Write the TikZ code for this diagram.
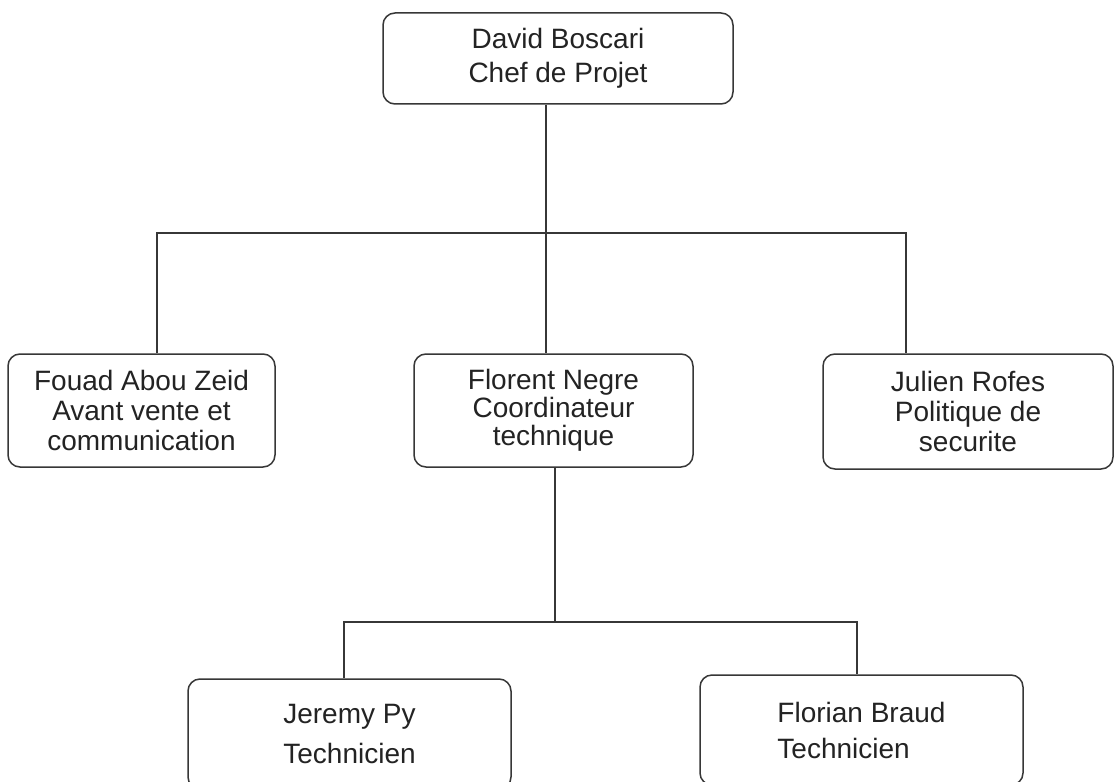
\documentclass[tikz,border=0pt]{standalone}
\usepackage{fontspec}
\setmainfont{Liberation Sans}
\definecolor{linegray}{RGB}{55,55,55}
\definecolor{textgray}{RGB}{35,35,35}
\begin{document}
\begin{tikzpicture}[x=1pt,y=-1pt,
  box/.style={draw=linegray, line width=1.5pt, rounded corners=12pt, fill=white,
    inner sep=0pt, align=center, text=textgray, font=\fontsize{28}{30}\selectfont},
  link/.style={draw=linegray, line width=1.5pt}]
\useasboundingbox (0,0) rectangle (1115,781);
\clip (0,0) rectangle (1115,781);
\fill[white] (0,0) rectangle (1115,781);

% nodes
\node[box, minimum width=350pt, minimum height=91pt, font=\fontsize{28}{34}\selectfont]
  (top) at (558,58.5) {David Boscari\\Chef de Projet};
\node[box, minimum width=267pt, minimum height=113pt]
  (fouad) at (141.5,410.5) {Fouad Abou Zeid\\Avant vente et\\communication};
\node[box, minimum width=279pt, minimum height=113pt, font=\fontsize{28}{28}\selectfont]
  (florent) at (553.5,410.5) {Florent Negre\\Coordinateur\\technique};
\node[box, minimum width=290pt, minimum height=115pt]
  (julien) at (968,411.5) {Julien Rofes\\Politique de\\securite};
\node[box, minimum width=323pt, minimum height=110pt, align=left, font=\fontsize{28}{40}\selectfont]
  (jeremy) at (349.5,734) {Jeremy Py\\Technicien};
\node[box, minimum width=323pt, minimum height=110pt, align=left, font=\fontsize{28}{36}\selectfont]
  (florian) at (861.5,730) {Florian Braud\\Technicien};

% junction coordinates
\coordinate (j1) at (546,233);
\coordinate (b1) at (157,233);
\coordinate (b3) at (906,233);
\coordinate (j2) at (555,622);
\coordinate (c1) at (344,622);
\coordinate (c3) at (857,622);

% connectors level 1
\draw[link] (top.south -| j1) -- (florent.north -| j1);
\draw[link] (fouad.north -| b1) -- (b1) -- (b3) -- (julien.north -| b3);

% connectors level 2
\draw[link] (florent.south -| j2) -- (j2);
\draw[link] (jeremy.north -| c1) -- (c1) -- (c3) -- (florian.north -| c3);
\end{tikzpicture}
\end{document}
